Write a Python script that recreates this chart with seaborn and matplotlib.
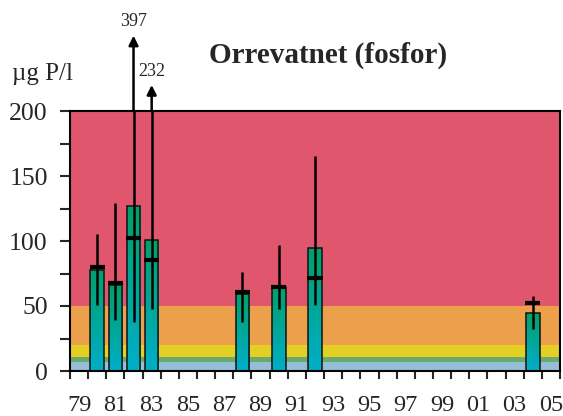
import numpy as np
import pandas as pd
import matplotlib
matplotlib.use("Agg")
import matplotlib.pyplot as plt
import seaborn as sns
from matplotlib.colors import LinearSegmentedColormap

# ---------------- data ----------------
years = list(range(1979, 2006))
sample_years = [1980, 1981, 1982, 1983, 1988, 1990, 1992, 2004]
mean_p = [78, 66, 127, 101, 59.5, 64.5, 94.5, 44.5]
median_p = [80, 68, 102, 85.5, 60.5, 65, 71.5, 52.5]
min_p = [51, 39, 37.5, 48, 37.5, 48, 51, 32.5]
max_p = [105.5, 129, 397, 232, 76, 97, 165.5, 57.5]
tick_labels = [f"{y % 100:02d}" for y in years[::2]]
class_bounds = [0, 7, 11, 20, 50, 200]
class_colors = ["#96BED6", "#6AAA6E", "#E4D024", "#ECA04C", "#E0566C"]
title = "Orrevatnet (fosfor)"
unit_label = "µg P/l"

# ---------------- style ----------------
sns.set_style("white")
plt.rcParams["font.family"] = ["Liberation Serif", "DejaVu Serif"]

fig = plt.figure(figsize=(5.63, 4.16), dpi=100)
ax = fig.add_axes([70 / 563, 1 - 371 / 416, 490 / 563, 260 / 416])

# background class bands
for lo, hi, c in zip(class_bounds[:-1], class_bounds[1:], class_colors):
    ax.axhspan(lo, hi, color=c, zorder=0, lw=0)

df = pd.DataFrame({"year": sample_years, "mean": mean_p})
sns.barplot(data=df, x="year", y="mean", order=years, width=0.75,
            errorbar=None, ax=ax, color="#00A598", edgecolor="#111111",
            linewidth=1.1, zorder=2)

# gradient fill inside bars
grad = np.linspace(0, 1, 256).reshape(-1, 1)
cmap = LinearSegmentedColormap.from_list("g", ["#00AEC8", "#00A06A"])
for bar in ax.containers[0]:
    h = bar.get_height()
    if not np.isfinite(h) or h <= 0:
        continue
    x0 = bar.get_x()
    w = bar.get_width()
    im = ax.imshow(grad, extent=[x0, x0 + w, 0, h], origin="lower",
                   cmap=cmap, aspect="auto", zorder=2.5)
    im.set_clip_path(bar)
    bar.set_facecolor("none")
    bar.set_zorder(3)

pos = [years.index(y) for y in sample_years]
ax.vlines(pos, min_p, max_p, color="black", lw=1.8, zorder=4)
ax.hlines(median_p, np.array(pos) - 0.42, np.array(pos) + 0.42,
          color="black", lw=3.0, zorder=5)

ax.set_xlim(-0.5, len(years) - 0.5)
ax.set_ylim(0, 200)

# arrows for values off the scale
arrow_tips = [1.29, 1.10]
over = [(p, v) for p, v in zip(pos, max_p) if v > 200]
over.sort(key=lambda t: -t[1])
for (p, v), tip in zip(over, arrow_tips):
    ax.annotate("", xy=(p, tip), xycoords=("data", "axes fraction"),
                xytext=(p, 1.0), textcoords=("data", "axes fraction"),
                arrowprops=dict(arrowstyle="-|>", color="black", lw=1.8,
                                mutation_scale=14, shrinkA=0, shrinkB=0),
                annotation_clip=False)
    ax.text(p, tip + 0.02, f"{v:g}", transform=ax.get_xaxis_transform(),
            ha="center", va="bottom", fontsize=13)

# ticks
ax.set_xticks(range(0, len(years), 2))
ax.set_xticklabels(tick_labels, fontsize=17.5)
ax.set_xticks(np.arange(-0.5, len(years), 1), minor=True)
ax.tick_params(axis="x", which="major", length=0, pad=17)
ax.tick_params(axis="x", which="minor", length=6, width=1.5, direction="out",
               bottom=True)
ax.set_yticks([0, 50, 100, 150, 200])
ax.set_yticklabels(["0", "50", "100", "150", "200"], fontsize=18.5)
ax.set_yticks(np.arange(0, 201, 25), minor=True)
ax.tick_params(axis="y", which="both", length=7, width=1.5, direction="out",
               left=True, pad=9)
ax.set_xlabel("")
ax.set_ylabel("")
for s in ax.spines.values():
    s.set_visible(True)
    s.set_color("black")
    s.set_linewidth(1.5)
    s.set_zorder(6)

fig.text(12 / 563, 1 - 80 / 416, unit_label, fontsize=18, ha="left",
         va="baseline")
fig.text(328 / 563, 1 - 55 / 416, title, fontsize=21, fontweight="bold",
         ha="center", va="center")

fig.savefig("out.png", dpi=100)
